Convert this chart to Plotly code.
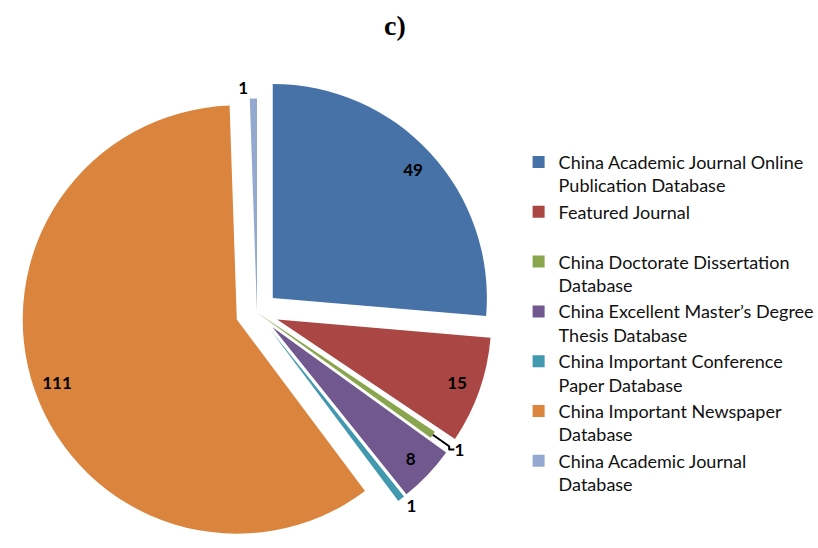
import plotly.graph_objects as go

labels = [
    "China Academic Journal Online<br>Publication Database",
    "Featured Journal<br> ",
    "China Doctorate Dissertation<br>Database",
    "China Excellent Master’s Degree<br>Thesis Database",
    "China Important Conference<br>Paper Database",
    "China Important Newspaper<br>Database",
    "China Academic Journal<br>Database",
]
values = [49, 15, 1, 8, 1, 111, 1]
pulls = [0.1, 0.1, 0.0, 0.1, 0.1, 0.1, 0.0]
colors = ["#4672A8", "#AA4643", "#89A54E", "#71588F", "#4198AF", "#DB843D", "#93A9CF"]
outside_pos = ["none", "none", "outside", "none", "outside", "none", "outside"]
inside_pos = ["inside", "inside", "none", "inside", "none", "inside", "none"]

domain = dict(x=[0.0263, 0.6021], y=[0.0, 0.8595])
label_font = dict(family="Lato", size=17, color="black", weight="bold")

fig = go.Figure()
# the pie slices, with the small slices labelled outside
fig.add_trace(go.Pie(
    labels=labels,
    values=values,
    sort=False,
    direction="clockwise",
    rotation=0,
    pull=pulls,
    marker=dict(colors=colors, line=dict(width=0)),
    texttemplate="%{value}",
    textposition=outside_pos,
    textfont=label_font,
    automargin=False,
    domain=domain,
    hoverinfo="label+value",
))
# transparent ring on top, used only to place the inside labels near the rim
fig.add_trace(go.Pie(
    labels=labels,
    values=values,
    sort=False,
    direction="clockwise",
    rotation=0,
    pull=pulls,
    hole=0.78,
    marker=dict(colors=["rgba(0,0,0,0)"] * len(values), line=dict(width=0)),
    texttemplate="%{value}",
    textposition=inside_pos,
    insidetextorientation="horizontal",
    textfont=label_font,
    automargin=False,
    domain=domain,
    showlegend=False,
    hoverinfo="skip",
))

fig.update_layout(
    width=818,
    height=548,
    margin=dict(l=0, r=0, t=0, b=0, autoexpand=False),
    paper_bgcolor="white",
    plot_bgcolor="white",
    showlegend=True,
    legend=dict(
        x=0.634, xanchor="left",
        y=0.41, yanchor="middle",
        valign="top",
        itemwidth=30,
        font=dict(family="Lato", size=18, color="#111111"),
        bgcolor="rgba(0,0,0,0)",
    ),
    annotations=[dict(
        text="<b>c)</b>", x=0.483, y=1 - 25 / 548, xref="paper", yref="paper",
        showarrow=False, xanchor="center", yanchor="middle",
        font=dict(family="Liberation Serif", size=28, color="black"),
    )],
)

fig.write_html("out.html")
